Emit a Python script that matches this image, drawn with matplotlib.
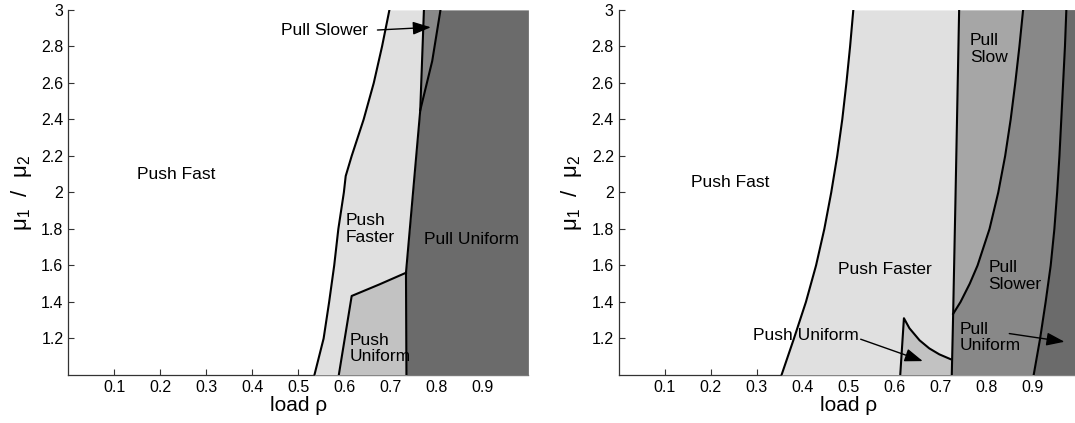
import matplotlib
matplotlib.use("Agg")
import numpy as np
import matplotlib.pyplot as plt

plt.rcParams['font.family'] = ['Liberation Sans', 'DejaVu Sans']
plt.rcParams['mathtext.fontset'] = 'custom'
plt.rcParams['mathtext.rm'] = 'Liberation Sans'

# ---- left panel boundaries (load rho, mu1/mu2) ----
l_fast_x = [0.535, 0.555, 0.567, 0.578, 0.587, 0.599, 0.603, 0.616, 0.642, 0.664, 0.682, 0.698]
l_fast_y = [1.0, 1.2, 1.4, 1.6, 1.8, 2.0, 2.09, 2.2, 2.4, 2.6, 2.8, 3.0]
l_pull_x = [0.735, 0.734, 0.765, 0.773]
l_pull_y = [1.0, 1.56, 2.45, 3.0]
l_punif_x = [0.588, 0.616, 0.676, 0.734, 0.735]
l_punif_y = [1.0, 1.433, 1.496, 1.56, 1.0]
l_slower_x = [0.765, 0.791, 0.809]
l_slower_y = [2.45, 2.72, 3.0]

# ---- right panel boundaries ----
r_fast_x = [0.354, 0.381, 0.407, 0.429, 0.447, 0.462, 0.475, 0.486, 0.495, 0.503, 0.510]
r_fast_y = [1.0, 1.2, 1.4, 1.6, 1.8, 2.0, 2.2, 2.4, 2.6, 2.8, 3.0]
r_punif_x = [0.612, 0.620, 0.632, 0.654, 0.675, 0.697, 0.722, 0.724]
r_punif_y = [1.0, 1.311, 1.256, 1.19, 1.146, 1.113, 1.086, 1.0]
r_slow_x = [0.724, 0.727, 0.732, 0.740]
r_slow_y = [1.0, 1.335, 1.96, 3.0]
r_slower_x = [0.727, 0.743, 0.763, 0.780, 0.806, 0.825, 0.840, 0.852, 0.862, 0.871, 0.879]
r_slower_y = [1.335, 1.4, 1.5, 1.6, 1.8, 2.0, 2.2, 2.4, 2.6, 2.8, 3.0]
r_unif_x = [0.902, 0.916, 0.928, 0.939, 0.947, 0.953, 0.958, 0.962, 0.966, 0.970, 0.973]
r_unif_y = [1.0, 1.2, 1.4, 1.6, 1.8, 2.0, 2.2, 2.4, 2.6, 2.8, 3.0]

xticks = [0.1, 0.2, 0.3, 0.4, 0.5, 0.6, 0.7, 0.8, 0.9]
yticks = [1.2, 1.4, 1.6, 1.8, 2.0, 2.2, 2.4, 2.6, 2.8, 3.0]
ytick_labels = ['1.2', '1.4', '1.6', '1.8', '2', '2.2', '2.4', '2.6', '2.8', '3']

c_light = '#e0e0e0'
c_punif = '#c2c2c2'
c_slow = '#a6a6a6'
c_slower = '#888888'
c_dark = '#6b6b6b'
LW = 1.5
FS = 12.5


def setup(ax):
    ax.set_xlim(0, 1)
    ax.set_ylim(1, 3)
    ax.set_xticks(xticks)
    ax.set_xticklabels([f'{t:g}' for t in xticks])
    ax.set_yticks(yticks)
    ax.set_yticklabels(ytick_labels)
    ax.tick_params(direction='in', length=4, width=0.8, labelsize=11.5,
                   colors='#333333', labelcolor='black')
    for s in ['top', 'right']:
        ax.spines[s].set_visible(False)
    for s in ['left', 'bottom']:
        ax.spines[s].set_color('#333333')
        ax.spines[s].set_linewidth(0.9)
    ax.set_xlabel('load ρ', fontsize=15, labelpad=1)
    ax.set_ylabel('μ$_1$  /  μ$_2$', fontsize=16, labelpad=5)


def arrow(ax, xy0, xy1):
    ax.annotate('', xy=xy1, xytext=xy0, zorder=6,
                arrowprops=dict(arrowstyle='-|>,head_length=1.1,head_width=0.4',
                                lw=1.0, color='black', shrinkA=0, shrinkB=0))


fig = plt.figure(figsize=(10.75, 4.23), dpi=100)
ax1 = fig.add_axes([0.0635, 0.1135, 0.428, 0.863])
ax2 = fig.add_axes([0.5755, 0.1135, 0.428, 0.863])

# left panel
ax1.fill_betweenx(l_fast_y, l_fast_x, 1, color=c_light, lw=0, zorder=3)
ax1.fill(l_punif_x, l_punif_y, color=c_punif, lw=0, zorder=3)
ax1.fill_betweenx(l_pull_y, l_pull_x, 1, color=c_dark, lw=0, zorder=3)
ax1.fill(l_slower_x + [l_pull_x[-1]], l_slower_y + [3.0], color=c_slower, lw=0, zorder=3)
ax1.plot(l_fast_x, l_fast_y, color='black', lw=LW, zorder=5)
ax1.plot(l_pull_x, l_pull_y, color='black', lw=LW, zorder=5)
ax1.plot(l_punif_x[:-1], l_punif_y[:-1], color='black', lw=LW, zorder=5)
ax1.plot(l_slower_x, l_slower_y, color='black', lw=LW, zorder=5)
ax1.text(0.235, 2.096, 'Push Fast', fontsize=FS, ha='center', va='center', zorder=6)
ax1.text(0.603, 1.80, 'Push\nFaster', fontsize=FS, ha='left', va='center',
         linespacing=1.15, zorder=6)
ax1.text(0.877, 1.745, 'Pull Uniform', fontsize=FS, ha='center', va='center', zorder=6)
ax1.text(0.612, 1.145, 'Push\nUniform', fontsize=FS, ha='left', va='center',
         linespacing=1.15, zorder=6)
ax1.text(0.556, 2.89, 'Pull Slower', fontsize=FS, ha='center', va='center', zorder=6)
arrow(ax1, (0.672, 2.89), (0.788, 2.905))
setup(ax1)

# right panel
ax2.fill_betweenx(r_fast_y, r_fast_x, 1.05, color=c_light, lw=0, zorder=3)
ax2.fill(r_punif_x, r_punif_y, color=c_punif, lw=0, zorder=3)
ax2.fill_betweenx(r_slow_y, r_slow_x, 1.05, color=c_slow, lw=0, zorder=3)
slower_poly_x = r_slow_x[:2] + r_slower_x[1:] + [1.05, 1.05]
slower_poly_y = r_slow_y[:2] + r_slower_y[1:] + [3.0, 1.0]
ax2.fill(slower_poly_x, slower_poly_y, color=c_slower, lw=0, zorder=3)
ax2.fill_betweenx(r_unif_y, r_unif_x, 1.05, color=c_dark, lw=0, zorder=3)
for xs, ys in [(r_fast_x, r_fast_y), (r_punif_x[:-1], r_punif_y[:-1]),
               (r_slow_x, r_slow_y), (r_slower_x, r_slower_y), (r_unif_x, r_unif_y)]:
    ax2.plot(xs, ys, color='black', lw=LW, zorder=5)
ax2.text(0.243, 2.055, 'Push Fast', fontsize=FS, ha='center', va='center', zorder=6)
ax2.text(0.578, 1.578, 'Push Faster', fontsize=FS, ha='center', va='center', zorder=6)
ax2.text(0.763, 2.785, 'Pull\nSlow', fontsize=FS, ha='left', va='center',
         linespacing=1.15, zorder=6)
ax2.text(0.804, 1.544, 'Pull\nSlower', fontsize=FS, ha='left', va='center',
         linespacing=1.15, zorder=6)
ax2.text(0.741, 1.205, 'Pull\nUniform', fontsize=FS, ha='left', va='center',
         linespacing=1.15, zorder=6)
ax2.text(0.407, 1.215, 'Push Uniform', fontsize=FS, ha='center', va='center', zorder=6)
arrow(ax2, (0.526, 1.196), (0.661, 1.076))
arrow(ax2, (0.849, 1.227), (0.969, 1.182))
setup(ax2)

fig.savefig('out.png', dpi=100)
